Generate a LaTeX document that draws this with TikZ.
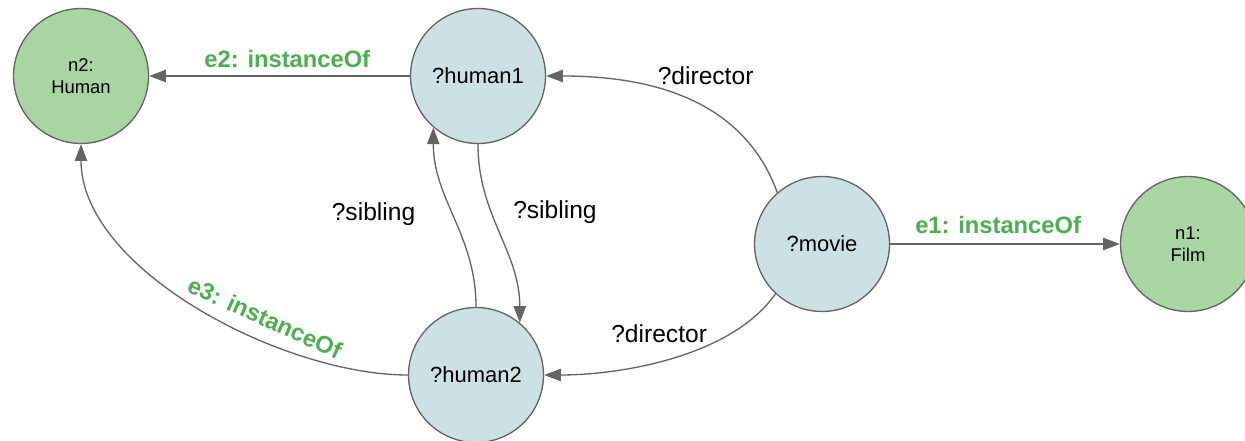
\documentclass[tikz,border=0pt]{standalone}
\usepackage{fontspec}
\setmainfont{Liberation Sans}
\usetikzlibrary{arrows.meta}
\definecolor{termgreen}{HTML}{A9D5A3}
\definecolor{varblue}{HTML}{CCE1E5}
\definecolor{edgegray}{HTML}{646464}
\definecolor{labelgreen}{HTML}{4CAF50}
\begin{document}
\begin{tikzpicture}[x=0.02cm,y=0.02cm,
  every node/.style={font=\fontsize{12.5}{14}\selectfont,text=black},
  term/.style={circle,draw=edgegray,line width=.75pt,fill=termgreen,minimum size=2.7cm,inner sep=0pt,align=center,font=\fontsize{10.5}{12.5}\selectfont},
  var/.style={circle,draw=edgegray,line width=.75pt,fill=varblue,minimum size=2.7cm,inner sep=0pt},
  rel/.style={font=\fontsize{14}{16}\selectfont},
  cls/.style={font=\bfseries\fontsize{13.5}{16}\selectfont,text=labelgreen},
  edge/.style={draw=edgegray,line width=.75pt,-{Triangle[length=9.5pt,width=7pt]}}]
  \useasboundingbox (0,0) rectangle (1245,440);
  \node[term] (n2) at (81,364) {n2:\\Human};
  \node[var] (h1) at (478,364) {?human1};
  \node[var] (h2) at (476,65) {?human2};
  \node[var] (mv) at (822,196) {?movie};
  \node[term] (n1) at (1188,196) {n1:\\Film};
  \draw[edge] (h1) -- (n2) node[cls,pos=.47,above=1pt] (e2) {e2: instanceOf};
  \draw[edge] (mv) -- (n1) node[cls,pos=.47,above=2pt] (e1) {e1: instanceOf};
  \draw[edge] (h2.west) to[out=180,in=-90,looseness=.8] node[cls,pos=.36,sloped,above=4pt] (e3) {e3: instanceOf} (n2.-90);
  \draw[edge] (mv.131) to[out=110,in=0] node[rel,pos=.42,above=9.5pt] (d1) {?director} (h1.east);
  \draw[edge] (mv.-133) to[out=-125,in=0,looseness=.8] node[rel,pos=.55,above=7pt] (d2) {?director} (h2.east);
  \draw[edge] (h2.north) to[out=90,in=-90] node[rel,pos=.52,left=18pt] (s1) {?sibling} (h1.-131);
  \draw[edge] (h1.south) to[out=-90,in=90] node[rel,pos=.37,right=9pt] (s2) {?sibling} (h2.50);
\end{tikzpicture}
\end{document}
